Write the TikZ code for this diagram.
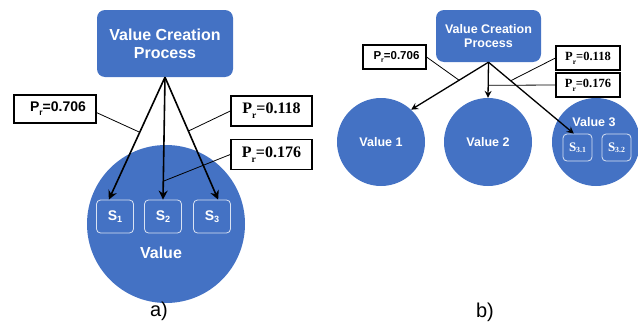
\documentclass[tikz,border=0pt]{standalone}
\usepackage{fontspec}
\setmainfont{Liberation Sans}
\newfontfamily\tnr{Liberation Serif}
\usetikzlibrary{shapes.geometric, shapes.misc, arrows, arrows.meta, positioning}
\definecolor{valblue}{HTML}{4472C4}
\newcommand{\probr}{P\raisebox{-0.3em}{\scalebox{0.6}{r}}}

\begin{document}
\begin{tikzpicture}[x=1pt, y=-1pt,
    procbox/.style={rounded corners=8pt, fill=valblue, text=white, align=center, inner sep=0pt},
    valcirc/.style={circle, fill=valblue, text=white, inner sep=0pt},
    subbox/.style={rounded corners=4pt, draw=white!80!valblue, line width=0.8pt, fill=valblue, text=white, inner sep=0pt},
    probbox/.style={draw=black, fill=white, inner sep=0pt},
    arr/.style={-{Stealth[length=9pt, width=9pt, inset=3pt]}, line width=1.6pt},
    probline/.style={line width=0.8pt}]

        \useasboundingbox (0,0) rectangle (638,324);

        % a) one value with three states
        \node[valcirc, minimum size=158] (val) at (166,224) {};
        \node[text=white, font=\fontsize{16}{18}\selectfont\bfseries] (valtxt) at (161,253) {Value};
        \node[procbox, minimum width=136, minimum height=67, font=\fontsize{16}{18}\selectfont\bfseries] (proca) at (165,43.5) {Value Creation\\Process};

        \foreach \i/\x in {1/115,2/163,3/212}
            \node[subbox, minimum width=37, minimum height=33, font=\fontsize{14}{14}\selectfont\bfseries] (s\i) at (\x,216.5) {S\raisebox{-0.1em}{\scalebox{0.65}{\i}}};

        \draw[arr] (proca.south) -- coordinate[pos=0.45] (ma1) (s1.110);
        \draw[arr] (proca.south) -- coordinate[pos=0.85] (ma3) (s2.north);
        \draw[arr] (proca.south) -- coordinate[pos=0.44] (ma2) (s3.70);

        \node[probbox, line width=1.4pt, minimum width=82, minimum height=28, font=\fontsize{14}{14}\selectfont\bfseries] (pa1) at (55,109) {\hspace*{6pt}\probr=0.706};
        \node[probbox, line width=1.4pt, minimum width=81, minimum height=30, font=\tnr\fontsize{16}{16}\selectfont\bfseries] (pa2) at (271.5,111) {\probr=0.118};
        \node[probbox, line width=1.4pt, minimum width=81, minimum height=30, font=\tnr\fontsize{16}{16}\selectfont\bfseries] (pa3) at (271.5,154.5) {\probr=0.176};

        \draw[probline] (pa1.-5) -- (ma1);
        \draw[probline] (pa2.west) -- (ma2);
        \draw[probline] (pa3.west) -- (ma3);

        \node[font=\fontsize{20}{20}\selectfont] (capa) at (159,311) {a)};

        % b) three values
        \node[valcirc, minimum size=88, font=\fontsize{12.5}{14}\selectfont\bfseries] (v1) at (381,142) {Value 1};
        \node[valcirc, minimum size=88, font=\fontsize{12.5}{14}\selectfont\bfseries] (v2) at (488,142) {Value 2};
        \node[valcirc, minimum size=88] (v3) at (596,142) {};
        \node[text=white, font=\fontsize{12.5}{14}\selectfont\bfseries] (v3txt) at (594,122) {Value 3};
        \node[procbox, minimum width=105, minimum height=52, font=\fontsize{12.5}{14}\selectfont\bfseries] (procb) at (488.5,36) {Value Creation\\Process};

        \node[subbox, minimum width=29, minimum height=27, font=\tnr\fontsize{13}{13}\selectfont\bfseries] (s31) at (577.5,147.5) {S\raisebox{-0.1em}{\scalebox{0.6}{3.1}}};
        \node[subbox, minimum width=29, minimum height=27, font=\tnr\fontsize{13}{13}\selectfont\bfseries] (s32) at (616.5,147.5) {S\raisebox{-0.1em}{\scalebox{0.6}{3.2}}};

        \draw[arr, -{Stealth[length=7pt, width=7pt, inset=2.5pt]}, line width=1.3pt] (procb.south) -- coordinate[pos=0.38] (mb1) (v1.47);
        \draw[arr, -{Stealth[length=7pt, width=7pt, inset=2.5pt]}, line width=1.3pt] (procb.south) -- coordinate[pos=0.65] (mb3) (v2.north);
        \draw[arr, -{Stealth[length=7pt, width=7pt, inset=2.5pt]}, line width=1.3pt] (procb.south) -- coordinate[pos=0.26] (mb2) (s31.105);

        \node[probbox, line width=1.1pt, minimum width=63, minimum height=24, font=\fontsize{11.5}{12}\selectfont\bfseries] (pb1) at (394.5,57) {\hspace*{4pt}\probr=0.706};
        \node[probbox, line width=1.1pt, minimum width=64, minimum height=24, font=\tnr\fontsize{12.5}{13}\selectfont\bfseries] (pb2) at (588,58) {\probr=0.118};
        \node[probbox, line width=1.1pt, minimum width=64, minimum height=24, font=\tnr\fontsize{12.5}{13}\selectfont\bfseries] (pb3) at (588,85) {\probr=0.176};

        \draw[probline] (pb1.east) -- (mb1);
        \draw[probline] (pb2.west) -- (mb2);
        \draw[probline] (pb3.west) -- (mb3);

        \node[font=\fontsize{20}{20}\selectfont] (capb) at (485,312) {b)};

\end{tikzpicture}
\end{document}
